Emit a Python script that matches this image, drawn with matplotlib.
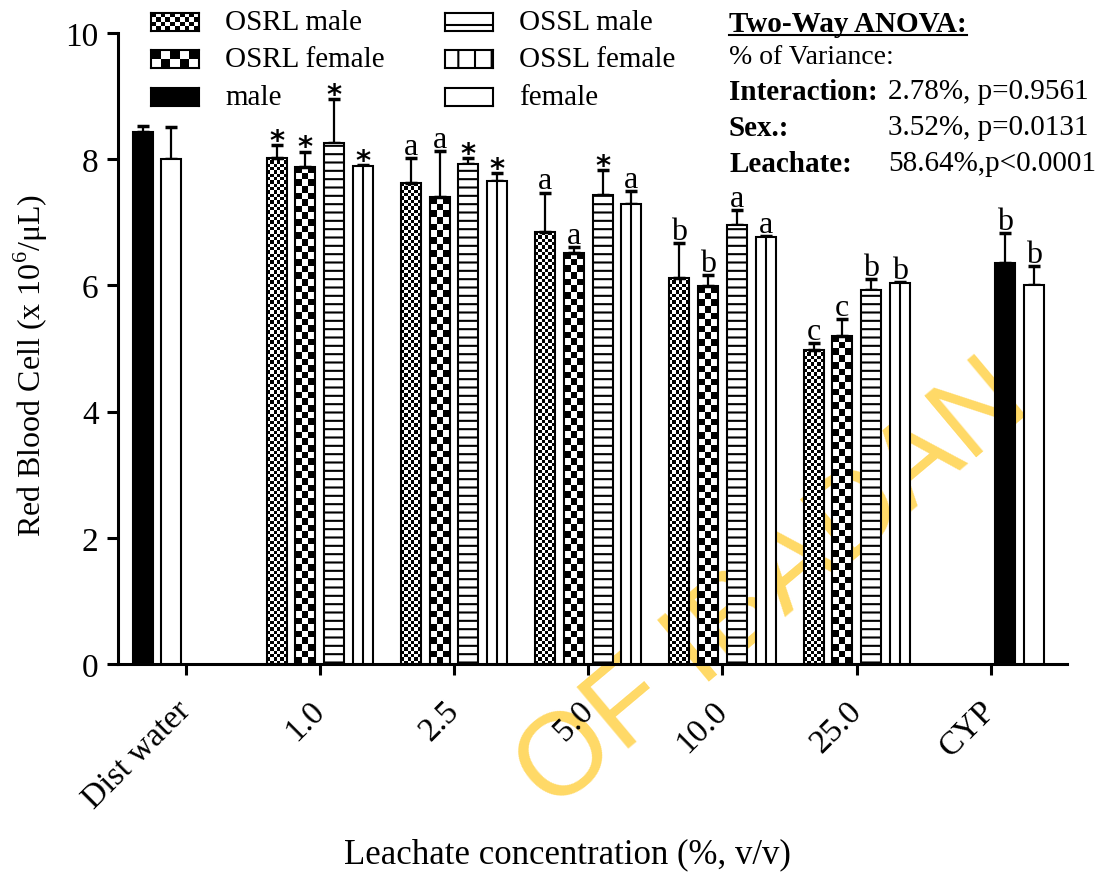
import numpy as np
import matplotlib.pyplot as plt
from matplotlib.patches import Rectangle
from matplotlib.lines import Line2D

plt.rcParams['font.family'] = 'Liberation Serif'
plt.rcParams['mathtext.fontset'] = 'custom'
plt.rcParams['mathtext.rm'] = 'Liberation Serif'
plt.rcParams['hatch.linewidth'] = 1.5

# --- data ---
groups = ['Dist water', '1.0', '2.5', '5.0', '10.0', '25.0', 'CYP']

# leachate concentrations 1.0 .. 25.0
osrl_male = [8.02, 7.62, 6.84, 6.12, 4.98]
osrl_male_err = [0.20, 0.40, 0.63, 0.55, 0.10]
osrl_male_lab = ['*', 'a', 'a', 'b', 'c']

osrl_female = [7.88, 7.40, 6.52, 5.99, 5.20]
osrl_female_err = [0.24, 0.73, 0.09, 0.17, 0.27]
osrl_female_lab = ['*', 'a', 'a', 'b', 'c']

ossl_male = [8.25, 7.93, 7.44, 6.95, 5.93]
ossl_male_err = [0.70, 0.09, 0.39, 0.24, 0.17]
ossl_male_lab = ['*', '*', '*', 'a', 'b']

ossl_female = [7.89, 7.65, 7.29, 6.77, 6.04]
ossl_female_err = [0.02, 0.13, 0.20, 0.01, 0.01]
ossl_female_lab = ['*', '*', 'a', 'a', 'b']

# controls: Dist water, CYP
ctrl_male = [8.43, 6.36]
ctrl_male_err = [0.09, 0.47]
ctrl_male_lab = ['', 'b']
ctrl_female = [8.00, 6.00]
ctrl_female_err = [0.51, 0.30]
ctrl_female_lab = ['', 'b']

anova_keys = ['Interaction:', 'Sex.:', 'Leachate:']
anova_vals = ['2.78%, p=0.9561', '3.52%, p=0.0131', '58.64%,p<0.0001']

W, H = 1105, 878
fig = plt.figure(figsize=(W / 100, H / 100), dpi=100)

# faint watermark sitting behind the plot
fig.text(0.70, 0.33, 'OF IBADAN', rotation=40, fontsize=84, color='#FFD966',
         family='Liberation Sans', ha='center', va='center', zorder=-1)

ax = fig.add_axes([118 / W, 1 - 665 / H, 949 / W, 631 / H])
ax.patch.set_alpha(0)
ax.set_xlim(-0.504, 6.567)
ax.set_ylim(0, 10)

slot = 0.214
bw = 0.149
conc_x = np.arange(1, 6)


def checker(a, x0, x1, y0, y1, ncols, z=2):
    p0 = a.transData.transform((x0, y0))
    p1 = a.transData.transform((x1, y1))
    cell = (p1[0] - p0[0]) / ncols
    nrows = max(1, int(round((p1[1] - p0[1]) / cell)))
    grid = np.indices((nrows, ncols)).sum(axis=0) % 2
    a.imshow(grid, cmap='gray', vmin=0, vmax=1, extent=(x0, x1, y0, y1),
             aspect='auto', interpolation='nearest', zorder=z)


def draw_series(xs, vals, errs, labs, style):
    xs = np.asarray(xs, dtype=float)
    if style == 'black':
        ax.bar(xs, vals, bw, facecolor='black', edgecolor='black', lw=1.5, zorder=3)
    elif style in ('white', 'vline'):
        ax.bar(xs, vals, bw, facecolor='white', edgecolor='black', lw=1.5, zorder=3)
        if style == 'vline':
            ax.vlines(xs, 0, vals, color='black', lw=1.5, zorder=4)
    elif style == 'hline':
        ax.bar(xs, vals, bw, facecolor='white', edgecolor='black', lw=1.5,
               hatch='--', zorder=3)
    else:
        ncols = 6 if style == 'fine' else 3
        for x, v in zip(xs, vals):
            checker(ax, x - bw / 2, x + bw / 2, 0, v, ncols)
        ax.bar(xs, vals, bw, facecolor='none', edgecolor='black', lw=1.5, zorder=3)
    ax.errorbar(xs, vals, yerr=[np.zeros(len(vals)), errs], fmt='none',
                ecolor='black', elinewidth=1.6, capsize=4, capthick=2.5, zorder=2)
    for x, v, e, lab in zip(xs, vals, errs, labs):
        if lab == '*':
            ax.annotate('*', (x, v + e), xytext=(0, -7), textcoords='offset points',
                        ha='center', va='bottom', fontsize=21, fontweight='bold',
                        family='DejaVu Sans')
        elif lab:
            ax.annotate(lab, (x, v + e), xytext=(0, -2), textcoords='offset points',
                        ha='center', va='bottom', fontsize=23)


draw_series(conc_x - 1.5 * slot, osrl_male, osrl_male_err, osrl_male_lab, 'fine')
draw_series(conc_x - 0.5 * slot, osrl_female, osrl_female_err, osrl_female_lab, 'coarse')
draw_series(conc_x + 0.5 * slot, ossl_male, ossl_male_err, ossl_male_lab, 'hline')
draw_series(conc_x + 1.5 * slot, ossl_female, ossl_female_err, ossl_female_lab, 'vline')
draw_series([0 - 1.5 * slot, 6 + 0.5 * slot], ctrl_male, ctrl_male_err, ctrl_male_lab, 'black')
draw_series([0 - 0.5 * slot, 6 + 1.5 * slot], ctrl_female, ctrl_female_err, ctrl_female_lab, 'white')

ax.spines['top'].set_visible(False)
ax.spines['right'].set_visible(False)
ax.spines['left'].set_linewidth(2.2)
ax.spines['bottom'].set_linewidth(2.2)
ax.set_yticks([0, 2, 4, 6, 8, 10])
ax.set_xticks(range(len(groups)))
ax.set_xticklabels(groups, rotation=45, ha='right', va='center', rotation_mode='anchor')
ax.tick_params(axis='both', length=8, width=2.2, labelsize=24, pad=6)
ax.tick_params(axis='x', pad=22)

ax.set_ylabel(r'Red Blood Cell (x 10$^{6}$/$\mathrm{\mu}$L)', fontsize=23)
ax.yaxis.set_label_coords(-0.072, 0.474)
ax.set_xlabel('Leachate concentration (%, v/v)', fontsize=25)
ax.xaxis.set_label_coords(0.474, -0.275)

# --- legend drawn by hand (checkerboard swatches) ---
legend_items = [
    (151, 23, 'fine', 'OSRL male'),
    (151, 60, 'coarse', 'OSRL female'),
    (151, 98, 'black', 'male'),
    (445, 23, 'hline', 'OSSL male'),
    (445, 60, 'vline', 'OSSL female'),
    (445, 98, 'white', 'female'),
]
for px, py, style, name in legend_items:
    sax = fig.add_axes([px / W, 1 - (py + 9) / H, 48 / W, 18 / H])
    sax.set_xlim(0, 1)
    sax.set_ylim(0, 1)
    sax.set_xticks([])
    sax.set_yticks([])
    for s in sax.spines.values():
        s.set_linewidth(1.5)
    if style in ('fine', 'coarse'):
        checker(sax, 0, 1, 0, 1, 10 if style == 'fine' else 5)
    elif style == 'black':
        sax.set_facecolor('black')
    elif style == 'hline':
        sax.add_patch(Rectangle((0, 0), 1, 1, facecolor='white', edgecolor='black',
                                lw=0, hatch='-'))
    elif style == 'vline':
        sax.add_patch(Rectangle((0, 0), 1, 1, facecolor='white', edgecolor='black',
                                lw=0, hatch='|'))
    fig.text((px + 74) / W, 1 - py / H, name, fontsize=21, ha='left', va='center')

# --- two-way ANOVA summary ---
title = fig.text(729 / W, 1 - 25 / H, 'Two-Way ANOVA:', fontsize=21, fontweight='bold',
                 ha='left', va='center')
fig.text(729 / W, 1 - 57 / H, '% of Variance:', fontsize=20, ha='left', va='center')
for i, (k, v) in enumerate(zip(anova_keys, anova_vals)):
    y = 1 - (92 + 36 * i) / H
    fig.text(729 / W, y, k, fontsize=21, fontweight='bold', ha='left', va='center')
    fig.text(888 / W, y, v, fontsize=21, ha='left', va='center')

fig.canvas.draw()
bb = title.get_window_extent()
fig.add_artist(Line2D([bb.x0 / W, bb.x1 / W], [(bb.y0 + 3) / H, (bb.y0 + 3) / H],
                      color='black', lw=1.5))

fig.savefig('out.png', dpi=100)
